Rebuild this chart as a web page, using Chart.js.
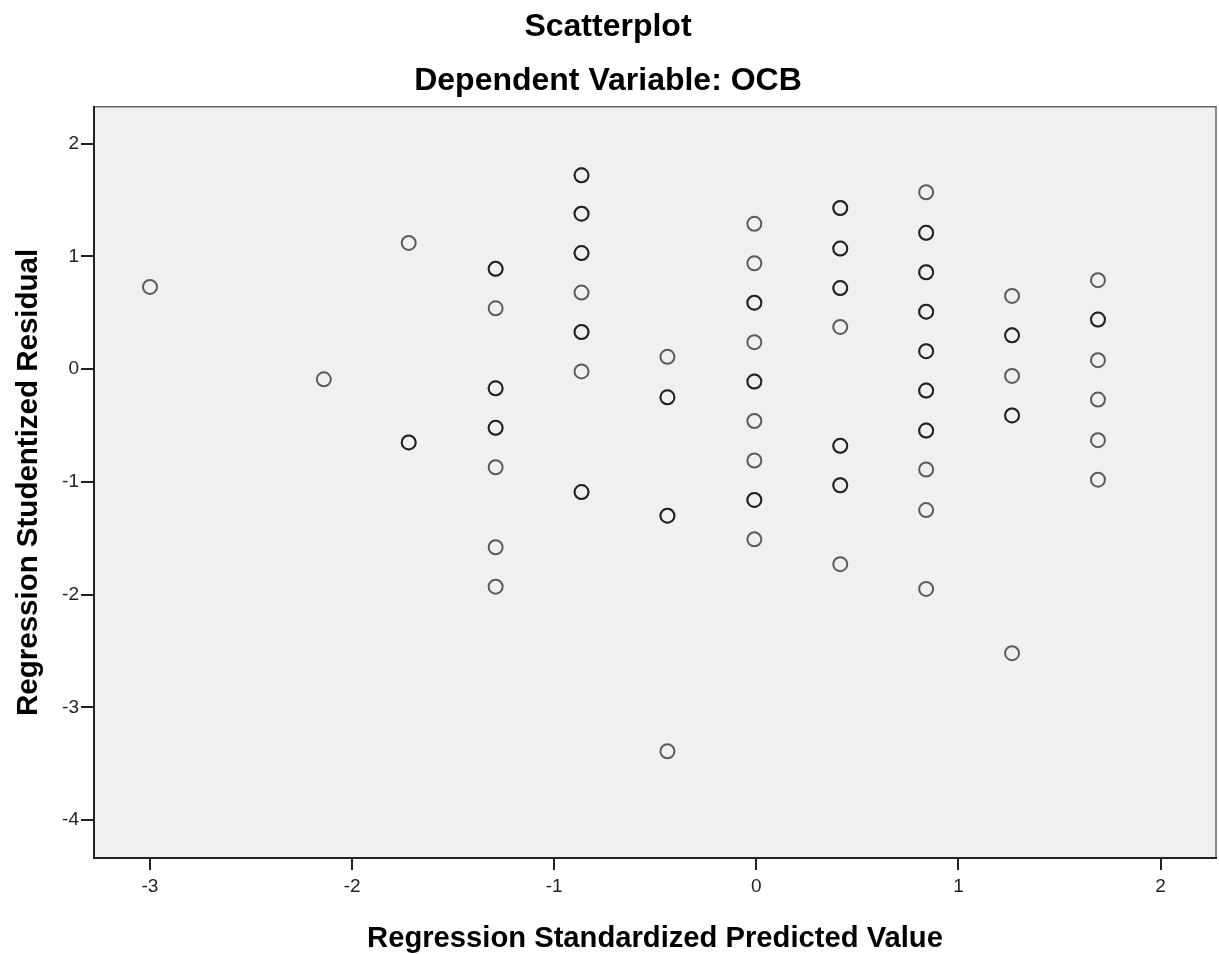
<!DOCTYPE html>
<html>
<head>
<meta charset="utf-8">
<script src="https://cdn.jsdelivr.net/npm/chart.js@4/dist/chart.umd.min.js"></script>
<style>
  html, body { margin: 0; padding: 0; background: #fff; }
  #wrap { width: 1219px; height: 954px; }
</style>
</head>
<body>
<div id="wrap"><canvas id="chart"></canvas></div>
<script>
// predicted value (x) and studentized residual (y), overlapping cases are listed twice
const predicted = [
  -3.0,
  -2.14,
  -1.72, -1.72, -1.72,
  -1.29, -1.29, -1.29, -1.29, -1.29, -1.29, -1.29, -1.29, -1.29, -1.29,
  -0.865, -0.865, -0.865, -0.865, -0.865, -0.865, -0.865, -0.865, -0.865, -0.865, -0.865, -0.865,
  -0.44, -0.44, -0.44, -0.44, -0.44, -0.44,
  -0.01, -0.01, -0.01, -0.01, -0.01, -0.01, -0.01, -0.01, -0.01, -0.01, -0.01, -0.01,
  0.415, 0.415, 0.415, 0.415, 0.415, 0.415, 0.415, 0.415, 0.415, 0.415, 0.415, 0.415,
  0.84, 0.84, 0.84, 0.84, 0.84, 0.84, 0.84, 0.84, 0.84, 0.84, 0.84, 0.84, 0.84, 0.84, 0.84, 0.84,
  1.265, 1.265, 1.265, 1.265, 1.265, 1.265, 1.265,
  1.69, 1.69, 1.69, 1.69, 1.69, 1.69, 1.69
];
const residual = [
  0.73,
  -0.09,
  1.12, -0.65, -0.65,
  0.89, 0.89, 0.54, -0.17, -0.17, -0.52, -0.52, -0.87, -1.58, -1.93,
  1.72, 1.72, 1.38, 1.38, 1.03, 1.03, 0.68, 0.33, 0.33, -0.02, -1.09, -1.09,
  0.11, -0.25, -0.25, -1.30, -1.30, -3.39,
  1.29, 0.94, 0.59, 0.59, 0.24, -0.11, -0.11, -0.46, -0.81, -1.16, -1.16, -1.51,
  1.43, 1.43, 1.07, 1.07, 0.72, 0.72, 0.375, -0.68, -0.68, -1.03, -1.03, -1.73,
  1.57, 1.21, 1.21, 0.86, 0.86, 0.51, 0.51, 0.16, 0.16, -0.19, -0.19, -0.545, -0.545, -0.89, -1.25, -1.95,
  0.65, 0.30, 0.30, -0.06, -0.41, -0.41, -2.52,
  0.79, 0.44, 0.44, 0.08, -0.27, -0.63, -0.98
];
const xRange = [-3.277, 2.274];
const yRange = [-4.337, 2.328];

const FONT = "'Liberation Sans', Arial, sans-serif";

// grey plot panel with a thin frame on top and right
const panel = {
  id: 'panel',
  beforeDraw(chart) {
    const { ctx, chartArea: a } = chart;
    ctx.save();
    ctx.fillStyle = '#f0f0f0';
    ctx.fillRect(a.left, a.top, a.right - a.left, a.bottom - a.top);
    ctx.strokeStyle = '#666';
    ctx.lineWidth = 1.5;
    ctx.beginPath();
    ctx.moveTo(a.left, a.top);
    ctx.lineTo(a.right, a.top);
    ctx.lineTo(a.right, a.bottom);
    ctx.stroke();
    ctx.restore();
  }
};

new Chart(document.getElementById('chart'), {
  type: 'scatter',
  data: {
    datasets: [{
      data: predicted.map((x, i) => ({ x: x, y: residual[i] })),
      pointStyle: 'circle',
      pointRadius: 7,
      pointBorderWidth: 2,
      pointBorderColor: 'rgba(0,0,0,0.62)',
      pointBackgroundColor: 'rgba(0,0,0,0)'
    }]
  },
  options: {
    responsive: true,
    maintainAspectRatio: false,
    animation: false,
    layout: { autoPadding: false, padding: { left: 0, right: 3, top: 0, bottom: 0 } },
    plugins: {
      legend: { display: false },
      tooltip: { enabled: false },
      title: {
        display: true,
        text: 'Scatterplot',
        color: '#000',
        font: { family: FONT, size: 32, weight: 'bold' },
        padding: { top: 8, bottom: 15.5 }
      },
      subtitle: {
        display: true,
        text: 'Dependent Variable: OCB',
        color: '#000',
        font: { family: FONT, size: 32, weight: 'bold' },
        padding: { top: 0, bottom: 6.5 }
      }
    },
    scales: {
      x: {
        type: 'linear',
        min: xRange[0],
        max: xRange[1],
        afterFit(s) { s.height = 96; s.paddingLeft = 0; s.paddingRight = 0; },
        grid: { display: true, drawOnChartArea: false, drawTicks: true, tickLength: 12, tickColor: '#222', lineWidth: 2 },
        border: { display: true, color: '#222', width: 2 },
        ticks: {
          stepSize: 1,
          includeBounds: false,
          color: '#222',
          padding: 5,
          font: { family: FONT, size: 19 }
        },
        title: {
          display: true,
          text: 'Regression Standardized Predicted Value',
          color: '#000',
          font: { family: FONT, size: 29.2, weight: 'bold' },
          padding: { top: 0, bottom: -2 }
        }
      },
      y: {
        type: 'linear',
        min: yRange[0],
        max: yRange[1],
        afterFit(s) { s.width = 94; s.paddingTop = 0; s.paddingBottom = 0; },
        grid: { display: true, drawOnChartArea: false, drawTicks: true, tickLength: 13, tickColor: '#222', lineWidth: 2 },
        border: { display: true, color: '#222', width: 2 },
        ticks: {
          stepSize: 1,
          includeBounds: false,
          color: '#222',
          padding: 2,
          font: { family: FONT, size: 19 }
        },
        title: {
          display: true,
          text: 'Regression Studentized Residual',
          color: '#000',
          font: { family: FONT, size: 29.5, weight: 'bold' },
          padding: { top: 11, bottom: 0 }
        }
      }
    }
  },
  plugins: [panel]
});
</script>
</body>
</html>
